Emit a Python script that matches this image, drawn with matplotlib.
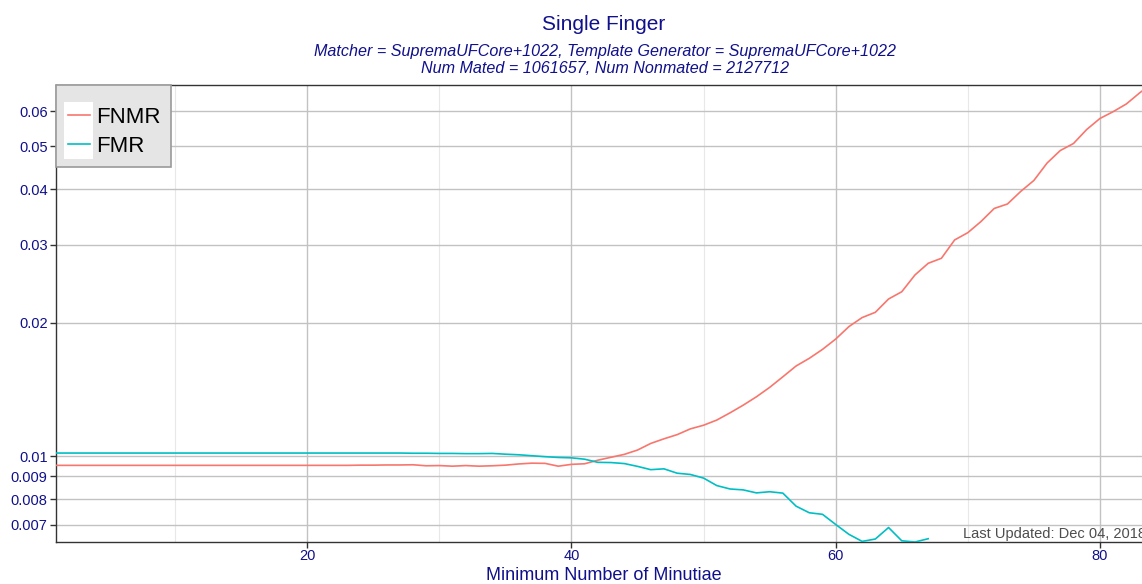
import matplotlib
matplotlib.use('Agg')
import matplotlib.pyplot as plt
from matplotlib.patches import Rectangle
from matplotlib.lines import Line2D
from matplotlib.ticker import FixedLocator, FixedFormatter, NullLocator

plt.rcParams['font.family'] = ['Liberation Sans', 'DejaVu Sans']

# ---------------- data ----------------
fnmr_x = list(range(1, 85))
fnmr = [0.00953, 0.00953, 0.00953, 0.00953, 0.00953, 0.00953, 0.00953, 0.00953, 0.00953, 0.00953,
        0.00953, 0.00953, 0.00953, 0.00953, 0.00953, 0.00953, 0.00953, 0.00953, 0.00953, 0.00953,
        0.00953, 0.00953, 0.00953, 0.00954, 0.00954, 0.00955, 0.00955, 0.00956, 0.00951, 0.00952,
        0.00949, 0.00952, 0.00949, 0.00951, 0.00954, 0.00960, 0.00964, 0.00963, 0.00949, 0.00958,
        0.00961, 0.00979, 0.00994, 0.01009, 0.01032, 0.01068, 0.01094, 0.01118, 0.01152, 0.01174,
        0.01206, 0.01252, 0.01303, 0.01361, 0.01429, 0.01510, 0.01597, 0.01662, 0.01741, 0.01837,
        0.01960, 0.02054, 0.02111, 0.02262, 0.02349, 0.02563, 0.02723, 0.02795, 0.03074, 0.03193,
        0.03384, 0.03621, 0.03706, 0.03955, 0.04188, 0.04585, 0.04893, 0.05075, 0.05458, 0.05779,
        0.05987, 0.06232, 0.06599, 0.06950]

fmr_x = list(range(1, 68))
fmr = [0.01016, 0.01016, 0.01016, 0.01016, 0.01016, 0.01016, 0.01016, 0.01016, 0.01016, 0.01016,
       0.01016, 0.01016, 0.01016, 0.01016, 0.01016, 0.01016, 0.01016, 0.01016, 0.01016, 0.01016,
       0.01016, 0.01016, 0.01016, 0.01016, 0.01016, 0.01016, 0.01016, 0.01015, 0.01015, 0.01014,
       0.01014, 0.01013, 0.01013, 0.01014, 0.01010, 0.01007, 0.01002, 0.00997, 0.00993, 0.00991,
       0.00984, 0.00968, 0.00967, 0.00962, 0.00948, 0.00932, 0.00936, 0.00915, 0.00909, 0.00892,
       0.00858, 0.00843, 0.00839, 0.00826, 0.00831, 0.00825, 0.00771, 0.00745, 0.00739, 0.00701,
       0.00666, 0.00642, 0.00650, 0.00690, 0.00644, 0.00640, 0.00651]

y_ticks = [0.007, 0.008, 0.009, 0.01, 0.02, 0.03, 0.04, 0.05, 0.06]
y_tick_labels = ['0.007', '0.008', '0.009', '0.01', '0.02', '0.03', '0.04', '0.05', '0.06']
x_ticks = [20, 40, 60, 80]
x_minor = [10, 30, 50, 70]

series_names = ['FNMR', 'FMR']
series_colors = ['#F8766D', '#00BFC4']

title = 'Single Finger'
subtitle = ('Matcher = SupremaUFCore+1022, Template Generator = SupremaUFCore+1022\n'
            'Num Mated = 1061657, Num Nonmated = 2127712')
xlabel = 'Minimum Number of Minutiae'
note = 'Last Updated: Dec 04, 2018'

# ---------------- figure ----------------
W, H = 1142, 584
fig = plt.figure(figsize=(W / 100, H / 100), dpi=100)
fig.patch.set_facecolor('white')

def fx(px):
    return px / W

def fy(py):
    return 1 - py / H

left_px, right_px, top_px, bot_px = 56, 1152, 85.3, 542
ax = fig.add_axes([fx(left_px), fy(bot_px), fx(right_px - left_px), (bot_px - top_px) / H])

navy = '#10108C'

ax.plot(fnmr_x, fnmr, color=series_colors[0], lw=1.2, zorder=3, solid_joinstyle='round')
ax.plot(fmr_x, fmr, color=series_colors[1], lw=1.2, zorder=3, solid_joinstyle='round')

ax.set_yscale('log')
ax.set_ylim(0.00640, 0.06866)
ax.set_xlim(0.985, 83.94)

ax.yaxis.set_major_locator(FixedLocator(y_ticks))
ax.yaxis.set_major_formatter(FixedFormatter(y_tick_labels))
ax.yaxis.set_minor_locator(NullLocator())
ax.xaxis.set_major_locator(FixedLocator(x_ticks))
ax.xaxis.set_minor_locator(FixedLocator(x_minor))

ax.grid(True, which='major', color='#c2c2c2', lw=1.0, zorder=1)
ax.grid(True, which='minor', axis='x', color='#e8e8e8', lw=0.8, zorder=1)
ax.set_axisbelow(True)

for s in ax.spines.values():
    s.set_color('#333333')
    s.set_linewidth(1.0)

ax.tick_params(axis='both', which='major', direction='out', length=4, width=1.0,
               color='#333333', labelcolor=navy, labelsize=10.5, pad=2)
ax.tick_params(axis='x', which='major', pad=1)
ax.tick_params(axis='x', which='minor', length=0)

ax.set_xlabel(xlabel, color=navy, fontsize=13, labelpad=2)
ax.xaxis.set_label_coords((604 - left_px) / (right_px - left_px), -0.054)

fig.text(fx(604), fy(24), title, ha='center', va='center', color=navy, fontsize=15)
fig.text(fx(605), fy(60), subtitle, ha='center', va='center', color=navy, fontsize=11.6,
         style='italic', linespacing=1.14)

fig.text(fx(963), fy(534), note, ha='left', va='center', color='#4d4d4d', fontsize=10.5)

# legend background (ggplot style)
fig.patches.append(Rectangle((fx(56), fy(167.3)), fx(171 - 56), (167.3 - 85.3) / H,
                             transform=fig.transFigure, facecolor='#e5e5e5',
                             edgecolor='#9a9a9a', lw=1.2, zorder=1))
fig.patches.append(Rectangle((fx(64), fy(159)), fx(92.7 - 64), (159 - 101.7) / H,
                             transform=fig.transFigure, facecolor='white',
                             edgecolor='none', zorder=1.5))

handles = [Line2D([], [], color=c, lw=1.2) for c in series_colors]
leg = fig.legend(handles, series_names, loc='upper left',
                 bbox_to_anchor=(fx(67.7), fy(107)), bbox_transform=fig.transFigure,
                 frameon=False, fontsize=16, handlelength=1.0, handletextpad=0.30,
                 labelspacing=0.37, borderpad=0, borderaxespad=0)
leg.set_zorder(5)
for t in leg.get_texts():
    t.set_color('black')

fig.savefig('out.png', dpi=100)
